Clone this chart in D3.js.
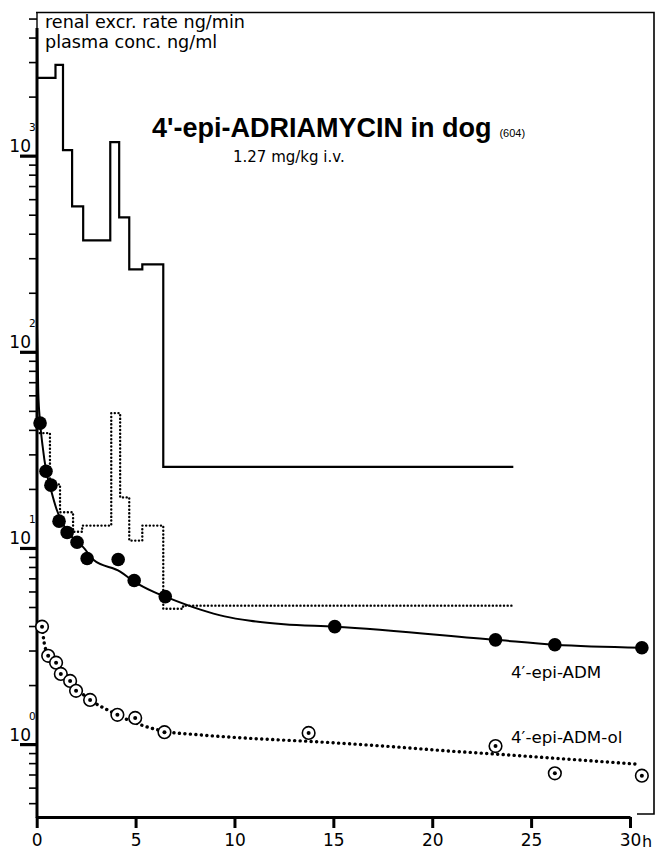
<!DOCTYPE html>
<html>
<head>
<meta charset="utf-8">
<script src="https://cdn.jsdelivr.net/npm/d3@7"></script>
<style>
  html, body { margin: 0; padding: 0; background: #fff; }
  svg { display: block; }
  text { fill: #000; }
</style>
</head>
<body>
<svg id="chart" width="657" height="850"></svg>
<script>
// ---- data ----
// renal excretion rate of 4'-epi-ADM (solid step), interval edges in h and rate ng/min
const renalTimes = [0, 0.95, 1.33, 1.79, 2.35, 3.72, 4.17, 4.68, 5.34, 6.40, 24.1];
const renalRate  = [2490, 2900, 1067, 552, 370, 1172, 485, 263, 279, 25.9];
// renal excretion rate of 4'-epi-ADM-ol (dotted step)
const olRenalTimes = [0.15, 0.67, 1.18, 1.84, 2.30, 3.77, 4.22, 4.68, 5.34, 6.40, 7.4, 24.1];
const olRenalRate  = [38.5, 21.1, 15.2, 12.1, 13.0, 48.7, 18.1, 10.9, 13.0, 4.9, 5.08];
// plasma conc. 4'-epi-ADM (filled circles)
const admT = [0.17, 0.47, 0.72, 1.13, 1.54, 2.04, 2.55, 4.12, 4.93, 6.5, 15.07, 23.2, 26.2, 30.6];
const admV = [43.3, 24.6, 20.9, 13.7, 12.0, 10.7, 8.84, 8.73, 6.82, 5.65, 3.97, 3.40, 3.21, 3.10];
// fitted curve 4'-epi-ADM (solid)
const admFitT = [0.02, 0.08, 0.17, 0.3, 0.47, 0.72, 1.0, 1.3, 1.6, 2.0, 2.35, 2.85, 4.22, 4.93, 5.89, 6.5, 8.28, 9.5, 10.8, 12.5, 15.07, 23.2, 26.2, 30.6];
const admFitV = [130, 62, 44, 33, 25, 19.8, 15.8, 13.4, 12.0, 10.8, 10.1, 8.73, 7.58, 6.74, 5.99, 5.65, 4.85, 4.48, 4.25, 4.08, 3.97, 3.40, 3.21, 3.10];
// plasma conc. 4'-epi-ADM-ol (open circles)
const olT = [0.27, 0.58, 0.98, 1.22, 1.69, 1.99, 2.70, 4.08, 4.98, 6.46, 13.75, 23.2, 26.2, 30.6];
const olV = [3.97, 2.82, 2.60, 2.28, 2.10, 1.87, 1.68, 1.41, 1.36, 1.15, 1.14, 0.977, 0.71, 0.69];
// fitted curve 4'-epi-ADM-ol (dotted)
const olFitT = [0.27, 0.42, 0.7, 1.0, 1.5, 2.0, 2.7, 3.6, 4.6, 5.4, 6.5, 8, 10.8, 14, 18, 21, 23.2, 26, 30.4];
const olFitV = [3.97, 3.13, 2.75, 2.5, 2.2, 1.93, 1.68, 1.49, 1.33, 1.24, 1.16, 1.12, 1.07, 1.03, 0.97, 0.92, 0.89, 0.85, 0.79];
// axis ticks
const xTicks = [0, 5, 10, 15, 20, 25, 30];
const yMajor = [1, 10, 100, 1000];
const yExp = ["0", "1", "2", "3"];
const yMinor = [0.5, 0.6, 0.7, 0.8, 0.9, 2, 3, 4, 5, 6, 7, 8, 9, 20, 30, 40, 50, 60, 70, 80, 90,
                200, 300, 400, 500, 600, 700, 800, 900, 2000, 3000, 4000, 5000];

const FONT = "DejaVu Sans, sans-serif";

// ---- scales ----
const svg = d3.select("#chart");
const x = d3.scaleLinear().domain([0, 30]).range([36.7, 630]);
const y = d3.scaleLog().domain([0.425, 5400]).range([817, 12]);

// frame (top and right)
svg.append("path")
  .attr("d", `M36,12.5 H654 V814 H637`)
  .attr("fill", "none").attr("stroke", "#000").attr("stroke-width", 1.6);

// ---- y axis ----
const gMinor = svg.append("g").attr("transform", "translate(37,0)")
  .call(d3.axisLeft(y).tickValues(yMinor).tickSize(8).tickSizeOuter(0).tickFormat(""));
gMinor.select(".domain").remove();
gMinor.selectAll(".tick line").attr("stroke-width", 1.6);

const gMajor = svg.append("g").attr("transform", "translate(37,0)")
  .call(d3.axisLeft(y).tickValues(yMajor).tickSize(17).tickSizeOuter(0).tickFormat(""));
gMajor.select(".domain").remove();
gMajor.selectAll(".tick line").attr("stroke-width", 3.2);
gMajor.selectAll(".tick").each(function(d, i) {
  const g = d3.select(this);
  g.append("text").attr("x", -6).attr("y", -4).attr("text-anchor", "end")
    .style("font-family", FONT).style("font-size", "17px").text("10");
  g.append("text").attr("x", -8).attr("y", -25).attr("text-anchor", "start")
    .style("font-family", FONT).style("font-size", "10.5px").text(yExp[i]);
});
// y axis line
svg.append("line").attr("x1", 37).attr("x2", 37).attr("y1", 28).attr("y2", 818)
  .attr("stroke", "#000").attr("stroke-width", 3);
svg.append("line").attr("x1", 37).attr("x2", 37).attr("y1", 12).attr("y2", 28)
  .attr("stroke", "#000").attr("stroke-width", 1.4);

// ---- x axis ----
const gx = svg.append("g").attr("transform", "translate(0,817)")
  .call(d3.axisBottom(x).tickValues(xTicks).tickSize(11).tickSizeOuter(0).tickPadding(6));
gx.select(".domain").attr("stroke-width", 3);
gx.selectAll(".tick line").attr("stroke-width", 3);
gx.selectAll(".tick text").style("font-size", "17px").style("font-family", FONT);
svg.append("text").attr("x", 642).attr("y", 847).style("font-family", FONT).style("font-size", "16px").text("h");

// ---- renal excretion steps ----
const stepLine = d3.line().curve(d3.curveStepAfter).x(d => x(d[0])).y(d => y(d[1]));
const renalPts = renalTimes.map((t, i) => [t, renalRate[Math.min(i, renalRate.length - 1)]]);
svg.append("path").attr("d", stepLine(renalPts))
  .attr("fill", "none").attr("stroke", "#000").attr("stroke-width", 2.2);

const olRenalPts = olRenalTimes.map((t, i) => [t, olRenalRate[Math.min(i, olRenalRate.length - 1)]]);
svg.append("path").attr("d", stepLine(olRenalPts))
  .attr("fill", "none").attr("stroke", "#000").attr("stroke-width", 2.4)
  .attr("stroke-linecap", "round").attr("stroke-dasharray", "0.1 3.6");

// ---- fitted curves ----
const curve = d3.line().curve(d3.curveMonotoneX).x(d => x(d[0])).y(d => y(d[1]));
svg.append("path").attr("d", curve(admFitT.map((t, i) => [t, admFitV[i]])))
  .attr("fill", "none").attr("stroke", "#000").attr("stroke-width", 2);

svg.append("path").attr("d", curve(olFitT.map((t, i) => [t, olFitV[i]])))
  .attr("fill", "none").attr("stroke", "#000").attr("stroke-width", 3.4)
  .attr("stroke-linecap", "round").attr("stroke-dasharray", "0.1 5.4");

// ---- points ----
svg.append("g").selectAll("circle").data(admT.map((t, i) => [t, admV[i]])).join("circle")
  .attr("cx", d => x(d[0])).attr("cy", d => y(d[1])).attr("r", 6.8).attr("fill", "#000");

const og = svg.append("g").selectAll("g").data(olT.map((t, i) => [t, olV[i]])).join("g")
  .attr("transform", d => `translate(${x(d[0])},${y(d[1])})`);
og.append("circle").attr("r", 6.3).attr("fill", "#fff").attr("stroke", "#000").attr("stroke-width", 1.6);
og.append("circle").attr("r", 2).attr("fill", "#000");

// ---- texts ----
svg.append("text").attr("x", 45).attr("y", 28).style("font-family", FONT).style("font-size", "17.6px").text("renal excr. rate ng/min");
svg.append("text").attr("x", 45).attr("y", 48).style("font-family", FONT).style("font-size", "17.6px").text("plasma conc. ng/ml");

const title = svg.append("text").attr("x", 152).attr("y", 137)
  .style("font-family", "Liberation Sans, Arial, sans-serif").style("font-weight", "bold").style("font-size", "27px");
title.append("tspan").text("4'-epi-ADRIAMYCIN in dog");
title.append("tspan").style("font-size", "11px").style("font-weight", "normal").attr("dx", 8).text("(604)");

svg.append("text").attr("x", 233).attr("y", 162).style("font-family", FONT).style("font-size", "15px").text("1.27 mg/kg i.v.");

svg.append("text").attr("x", 511).attr("y", 678).style("font-family", FONT).style("font-size", "16.7px").text("4\u2032-epi-ADM");
svg.append("text").attr("x", 511).attr("y", 743).style("font-family", FONT).style("font-size", "16.7px").text("4\u2032-epi-ADM-ol");
</script>
</body>
</html>
